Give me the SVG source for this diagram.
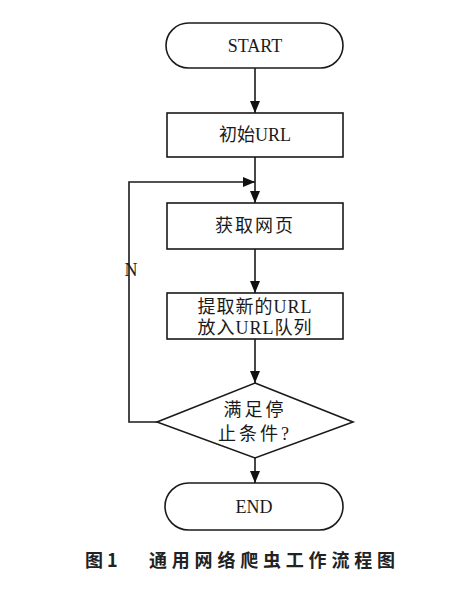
<svg xmlns="http://www.w3.org/2000/svg" width="465" height="592" viewBox="0 0 465 592">
<defs>
<marker id="arr" viewBox="0 0 12 10" refX="12" refY="5" markerWidth="12" markerHeight="10" markerUnits="userSpaceOnUse" orient="auto">
<path d="M0,0 L12,5 L0,10 Z" fill="#111"/>
</marker>
</defs>
<style>
.shape{fill:#fff;stroke:#1a1a1a;stroke-width:1.6}
.line{fill:none;stroke:#1a1a1a;stroke-width:1.6}
.t{font-family:"Liberation Serif","Noto Sans CJK SC",serif;font-size:18px;fill:#1a1a1a;text-anchor:middle}
.cap{font-family:"Noto Sans CJK SC",sans-serif;font-size:18px;font-weight:bold;fill:#222}
</style>
<rect width="465" height="592" fill="#fff"/>
<g id="connectors">
<line class="line" x1="255" y1="68" x2="255" y2="113" marker-end="url(#arr)"/>
<line class="line" x1="255" y1="157" x2="255" y2="203" marker-end="url(#arr)"/>
<line class="line" x1="255" y1="249" x2="255" y2="293" marker-end="url(#arr)"/>
<line class="line" x1="255" y1="339" x2="255" y2="383" marker-end="url(#arr)"/>
<line class="line" x1="255" y1="458" x2="255" y2="483" marker-end="url(#arr)"/>
<polyline class="line" points="157,422 129,422 129,182 255,182" marker-end="url(#arr)"/>
<text class="t" x="131" y="276" font-size="17">N</text>
</g>
<g id="start">
<rect class="shape" x="166" y="23" width="177" height="45" rx="22.5"/>
<text class="t" x="255" y="52" font-size="19">START</text>
</g>
<g id="init">
<rect class="shape" x="167" y="113" width="176" height="44"/>
<text class="t" x="255" y="141">初始URL</text>
</g>
<g id="fetch">
<rect class="shape" x="167" y="203" width="176" height="46"/>
<text class="t" x="255" y="232" letter-spacing="2">获取网页</text>
</g>
<g id="extract">
<rect class="shape" x="167" y="293" width="176" height="46"/>
<text class="t" x="255" y="313" letter-spacing="1">提取新的URL</text>
<text class="t" x="255" y="334" letter-spacing="1">放入URL队列</text>
</g>
<g id="decision">
<polygon class="shape" points="255,383 353,422 255,458 157,422"/>
<text class="t" x="255" y="416" font-size="16" letter-spacing="3">满足停</text>
<text class="t" x="255" y="440" font-size="16" letter-spacing="3">止条件?</text>
</g>
<g id="end">
<rect class="shape" x="165" y="483" width="178" height="47" rx="23.5"/>
<text class="t" x="254" y="513" font-size="19">END</text>
</g>
<g id="caption">
<text class="cap" x="85" y="567" xml:space="preserve">图 1</text>
<text class="cap" x="149" y="567" letter-spacing="4.8">通用网络爬虫工作流程图</text>
</g>
</svg>
